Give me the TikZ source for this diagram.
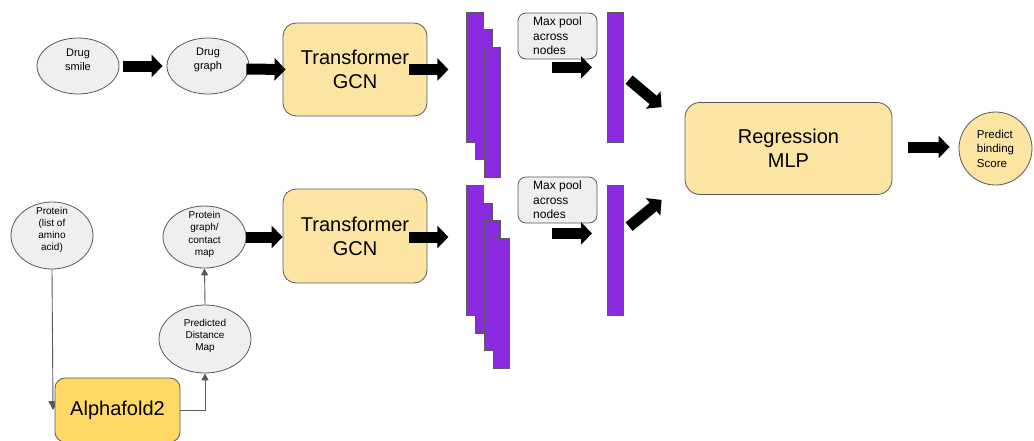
\documentclass[tikz,border=0pt]{standalone}
\usepackage{fontspec}
\setmainfont{Liberation Sans}
\usetikzlibrary{arrows.meta,shapes.geometric,calc}
\pgfdeclarelayer{background}
\pgfsetlayers{background,main}
\definecolor{lgray}{HTML}{EFEFEF}
\definecolor{edgec}{HTML}{595959}
\definecolor{ylight}{HTML}{FCE5A3}
\definecolor{ydark}{HTML}{FFD966}
\definecolor{purp}{HTML}{8A2BE2}
\begin{document}
\begin{tikzpicture}[x=1pt,y=-1pt,
  ell/.style={ellipse, draw=edgec, fill=lgray, line width=0.8pt, inner sep=0pt},
  stxt/.style={align=center, inner sep=0pt, font=\fontsize{11}{14}\selectfont},
  ptxt/.style={align=center, inner sep=0pt, font=\fontsize{10}{12.2}\selectfont},
  ybox/.style={rectangle, rounded corners=13pt, draw=edgec, fill=ylight, line width=0.8pt,
    align=center, inner sep=0pt, font=\fontsize{20}{24}\selectfont},
  barbox/.style={rectangle, draw=edgec, fill=purp, line width=0.7pt, inner sep=0pt,
    minimum width=16.5pt, minimum height=130pt},
  poolbox/.style={rectangle, rounded corners=8pt, draw=edgec, fill=lgray, line width=0.8pt,
    minimum width=79pt, minimum height=46pt, align=left, inner sep=0pt,
    font=\fontsize{12}{14.5}\selectfont},
  blk/.style={draw=black, line width=11pt, -{Triangle[length=11pt,width=22pt]}},
  thinarr/.style={draw=edgec, line width=0.9pt, -{Triangle[length=7pt,width=7pt]}}
]
\useasboundingbox (0,0) rectangle (1034,440);
\clip (0,0) rectangle (1034,440);

% ---- drug branch ----
\node[ell, minimum width=82pt, minimum height=56pt] (ds) at (78,66) {};
\node[stxt] (dst) at (78,60) {Drug\\smile};
\node[ell, minimum width=82pt, minimum height=56pt] (dg) at (208,66) {};
\node[stxt] (dgt) at (208,60) {Drug\\graph};
\node[ybox, minimum width=144pt, minimum height=93pt] (tg1) at (355,69.5) {Transformer\\GCN};

\node[barbox] (b11) at (475,77) {};
\node[barbox] (b12) at (484,94.5) {};
\node[barbox] (b13) at (492.5,112) {};

\node[poolbox] (mp1) at (557.5,36) {Max pool\\across\\nodes};
\node[barbox] (s1) at (615.5,77) {};

% ---- protein branch ----
\node[ell, minimum width=82pt, minimum height=67pt] (prot) at (52,235.5) {};
\node[ptxt] (prott) at (52,230) {Protein\\(list of\\amino\\acid)};
\node[ell, minimum width=83pt, minimum height=62pt] (pg) at (204.5,237) {};
\node[ptxt] (pgt) at (204.5,234.5) {Protein\\graph/\\contact\\map};
\node[ell, minimum width=92pt, minimum height=68pt] (pdm) at (205,339) {};
\node[ptxt] (pdmt) at (205,336) {Predicted\\Distance\\Map};
\node[ybox, rounded corners=10pt, fill=ydark, minimum width=125pt, minimum height=64pt] (af) at (117.5,410) {Alphafold2};

\node[ybox, minimum width=144pt, minimum height=94pt] (tg2) at (355,236) {Transformer\\GCN};

\node[barbox] (b21) at (475,250) {};
\node[barbox] (b22) at (484,268) {};
\node[barbox] (b23) at (492.5,285) {};
\node[barbox] (b24) at (501.5,303) {};

\node[poolbox] (mp2) at (557.5,200) {Max pool\\across\\nodes};
\node[barbox] (s2) at (615.5,250) {};

% ---- head ----
\node[ybox, rounded corners=15pt, minimum width=207pt, minimum height=92pt] (reg) at (788.5,148.5) {Regression\\MLP};
\node[circle, draw=edgec, fill=ylight, line width=0.8pt, minimum size=73pt, inner sep=0pt,
  align=left, font=\fontsize{11.5}{14.5}\selectfont] (pr) at (995.5,148.5) {Predict\\binding\\Score};

% ---- block arrows ----
\draw[blk] ($(ds.east)+(4,0)$) -- ($(dg.west)+(-4,0)$);
\draw[blk] ($(dg.east)+(-3,3)$) -- ($(tg1.west)+(3,0)$);
\draw[blk] ($(tg1.east)+(-18,0)$) -- ($(tg1.east)+(21,0)$);
\draw[blk] ($(mp1.south)+(-5.5,8)$) -- ($(mp1.south)+(34.5,8)$);
\draw[blk] ($(s1.north east)+(5,68)$) -- ($(reg.north west)+(-23,5)$);

\draw[blk] ($(pg.east)+(0,0)$) -- ($(tg2.west)+(0,1)$);
\draw[blk] ($(tg2.east)+(-18,1)$) -- ($(tg2.east)+(21,1)$);
\draw[blk] ($(mp2.south)+(-5.5,10)$) -- ($(mp2.south)+(34.5,10)$);
\draw[blk] ($(s2.north east)+(5,42)$) -- ($(reg.south west)+(-23,5)$);

\draw[blk] ($(reg.east)+(16,-1.5)$) -- ($(pr.west)+(-9,-1.5)$);

% ---- thin connectors ----
\begin{pgfonlayer}{background}
\draw[thinarr, -{Triangle[length=9pt,width=9pt]}] (prot.south) -- ($(prot.south |- af.west)+(1,0)$);
\end{pgfonlayer}
\draw[thinarr] (af.east) -| (pdm.south);
\draw[thinarr] (pdm.north) -- (pg.south);
\end{tikzpicture}
\end{document}
